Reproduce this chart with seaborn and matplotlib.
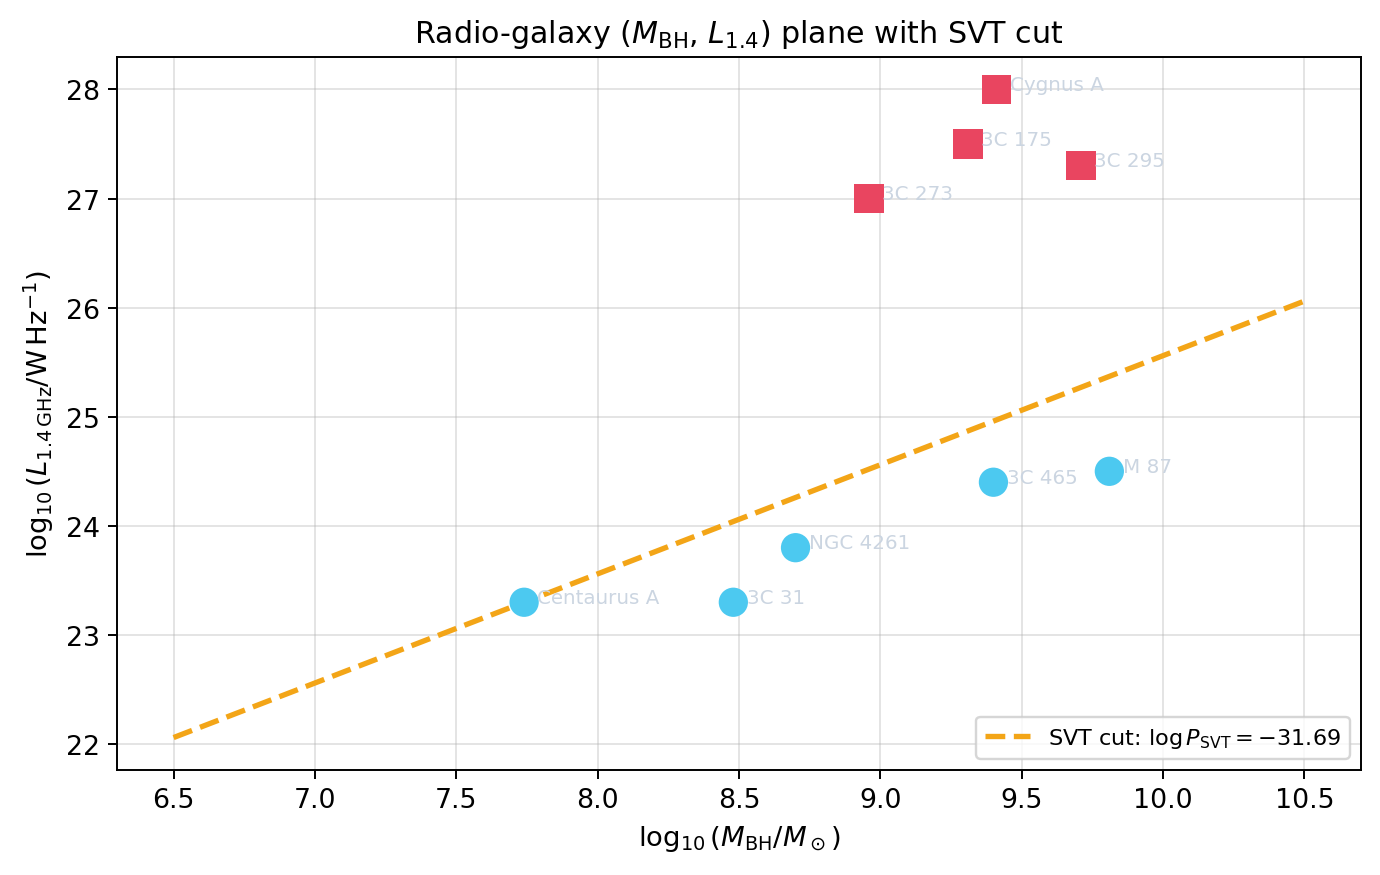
import pandas as pd
import matplotlib
matplotlib.use("Agg")
import matplotlib.pyplot as plt
import seaborn as sns

# galaxies above the cut (squares) and below it (circles)
loud_names = ["Cygnus A", "3C 175", "3C 295", "3C 273"]
loud_mbh = [9.41, 9.31, 9.71, 8.96]
loud_lum = [28.0, 27.5, 27.3, 27.0]

quiet_names = ["Centaurus A", "3C 31", "NGC 4261", "3C 465", "M 87"]
quiet_mbh = [7.74, 8.48, 8.70, 9.40, 9.81]
quiet_lum = [23.3, 23.3, 23.8, 24.4, 24.5]

# SVT cut line end points
svt_x = [6.5, 10.5]
svt_y = [22.06, 26.06]

loud = pd.DataFrame({"name": loud_names, "mbh": loud_mbh, "lum": loud_lum})
quiet = pd.DataFrame({"name": quiet_names, "mbh": quiet_mbh, "lum": quiet_lum})
cut = pd.DataFrame({"x": svt_x, "y": svt_y})

fig, ax = plt.subplots(figsize=(1380 / 175, 876 / 175), dpi=175)
fig.subplots_adjust(left=0.0848, right=0.9862, top=0.9338, bottom=0.1199)

sns.lineplot(data=cut, x="x", y="y", ax=ax, color="#f3a517", lw=2.2,
             linestyle="--", label=r"SVT cut: $\log P_{\rm SVT} = -31.69$",
             zorder=2)
sns.scatterplot(data=loud, x="mbh", y="lum", ax=ax, marker="s", s=145,
                color="#e94560", edgecolor="none", zorder=3, legend=False)
sns.scatterplot(data=quiet, x="mbh", y="lum", ax=ax, marker="o", s=145,
                color="#4cc9f0", edgecolor="none", zorder=3, legend=False)

for df in (loud, quiet):
    for _, r in df.iterrows():
        ax.annotate(r["name"], (r["mbh"], r["lum"]), xytext=(5.5, 2),
                    textcoords="offset points", fontsize=8.2, color="#cbd5e1",
                    ha="left", va="center", zorder=4)

ax.grid(True, alpha=0.35)
ax.set_axisbelow(True)
ax.tick_params(labelsize=11)
ax.set_title(r"Radio-galaxy ($M_{\rm BH}$, $L_{1.4}$) plane with SVT cut",
             fontsize=12.4)
ax.set_xlabel(r"$\log_{10}(M_{\rm BH}/M_\odot)$", fontsize=11.3)
ax.set_ylabel(r"$\log_{10}(L_{1.4\,\rm GHz}/{\rm W\,Hz^{-1}})$", fontsize=11.3)
ax.legend(loc="lower right", fontsize=9.2)

fig.savefig("out.png", dpi=175)
